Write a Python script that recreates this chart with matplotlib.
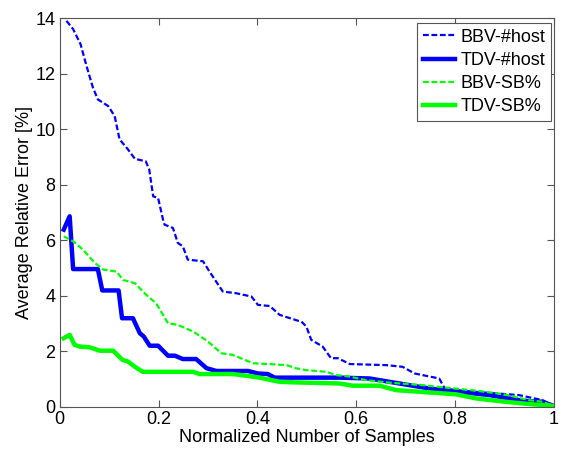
import matplotlib
matplotlib.use("Agg")
import matplotlib.pyplot as plt

# Data
bbv_host_x = [0.0135, 0.027, 0.042, 0.054, 0.067, 0.077, 0.098, 0.111, 0.121, 0.138,
              0.152, 0.174, 0.181, 0.189, 0.199, 0.209, 0.212, 0.229, 0.239, 0.249,
              0.259, 0.29, 0.303, 0.33, 0.357, 0.388, 0.401, 0.425, 0.445, 0.482,
              0.489, 0.499, 0.509, 0.532, 0.549, 0.563, 0.587, 0.661, 0.694, 0.718,
              0.768, 0.779, 0.799, 0.87, 0.93, 0.977, 1.0]
bbv_host_y = [13.9, 13.6, 13.06, 12.28, 11.5, 11.07, 10.83, 10.47, 9.63, 9.27,
              8.93, 8.84, 8.55, 7.58, 7.52, 6.74, 6.56, 6.44, 5.9, 5.78,
              5.3, 5.24, 4.87, 4.15, 4.09, 3.97, 3.67, 3.63, 3.31, 3.1,
              3.07, 2.89, 2.41, 2.17, 1.75, 1.75, 1.54, 1.5, 1.44, 1.2,
              1.02, 0.66, 0.6, 0.5, 0.42, 0.24, 0.03]

tdv_host_x = [0.008, 0.02, 0.027, 0.077, 0.086, 0.119, 0.126, 0.148, 0.162, 0.17,
              0.182, 0.199, 0.219, 0.233, 0.249, 0.276, 0.297, 0.317, 0.381, 0.401,
              0.421, 0.435, 0.566, 0.627, 0.667, 0.748, 0.809, 0.87, 0.937, 0.977, 1.0]
tdv_host_y = [6.38, 6.86, 4.96, 4.96, 4.19, 4.19, 3.19, 3.19, 2.65, 2.53,
              2.2, 2.2, 1.84, 1.84, 1.72, 1.72, 1.39, 1.29, 1.29, 1.2,
              1.18, 1.05, 1.05, 1.02, 0.9, 0.66, 0.54, 0.42, 0.22, 0.18, 0.03]

bbv_sb_x = [0.008, 0.027, 0.047, 0.071, 0.088, 0.115, 0.128, 0.152, 0.175, 0.195,
            0.219, 0.239, 0.27, 0.3, 0.327, 0.35, 0.391, 0.432, 0.459, 0.48,
            0.499, 0.539, 0.56, 0.583, 0.62, 0.667, 0.735, 0.782, 0.843, 0.896,
            0.95, 0.977, 1.0]
bbv_sb_y = [6.14, 5.96, 5.66, 5.18, 4.94, 4.87, 4.57, 4.45, 4.03, 3.73,
            3.01, 2.95, 2.71, 2.35, 1.93, 1.87, 1.57, 1.53, 1.5, 1.38,
            1.32, 1.26, 1.14, 1.1, 0.96, 0.87, 0.78, 0.69, 0.58, 0.46,
            0.24, 0.18, 0.03]

tdv_sb_x = [0.008, 0.02, 0.03, 0.04, 0.061, 0.081, 0.108, 0.127, 0.138, 0.152,
            0.168, 0.27, 0.283, 0.35, 0.377, 0.404, 0.445, 0.475, 0.566, 0.593,
            0.647, 0.681, 0.762, 0.802, 0.843, 0.903, 0.95, 1.0]
tdv_sb_y = [2.47, 2.59, 2.23, 2.17, 2.14, 2.02, 2.02, 1.69, 1.63, 1.44,
            1.26, 1.26, 1.18, 1.18, 1.12, 1.05, 0.9, 0.88, 0.84, 0.76,
            0.76, 0.6, 0.5, 0.45, 0.3, 0.18, 0.1, 0.03]

plt.rcParams["font.family"] = ["Liberation Sans", "DejaVu Sans"]
plt.rcParams["font.size"] = 13

fig = plt.figure(figsize=(5.64, 4.51), dpi=100)
ax = fig.add_axes([0.106, 0.098, 0.876, 0.862])

dash = (0, (2.6, 1.2))
ax.plot(bbv_host_x, bbv_host_y, color=(0, 0, 1), linestyle=dash, linewidth=1.6, label="BBV-#host")
ax.plot(tdv_host_x, tdv_host_y, color=(0, 0, 1), linewidth=3.2, label="TDV-#host")
ax.plot(bbv_sb_x, bbv_sb_y, color=(0, 1, 0), linestyle=dash, linewidth=1.6, label="BBV-SB%")
ax.plot(tdv_sb_x, tdv_sb_y, color=(0, 1, 0), linewidth=3.2, label="TDV-SB%")

ax.set_xlim(0, 1)
ax.set_ylim(0, 14)
ax.set_xticks([0, 0.2, 0.4, 0.6, 0.8, 1])
ax.set_xticklabels(["0", "0.2", "0.4", "0.6", "0.8", "1"])
ax.set_yticks(range(0, 15, 2))
ax.tick_params(direction="in", top=True, right=True, length=5, color="#555555", pad=3)
for s in ax.spines.values():
    s.set_color("#555555")
    s.set_linewidth(0.8)

ax.set_xlabel("Normalized Number of Samples", labelpad=1)
ax.set_ylabel("Average Relative Error [%]", labelpad=2)

leg = ax.legend(loc="upper right", bbox_to_anchor=(0.994, 0.987), borderaxespad=0,
                fancybox=False, framealpha=1, edgecolor="#555555",
                handlelength=1.8, handletextpad=0.3, borderpad=0.3, labelspacing=0.35)
leg.get_frame().set_linewidth(0.8)

fig.savefig("out.png", dpi=100)
